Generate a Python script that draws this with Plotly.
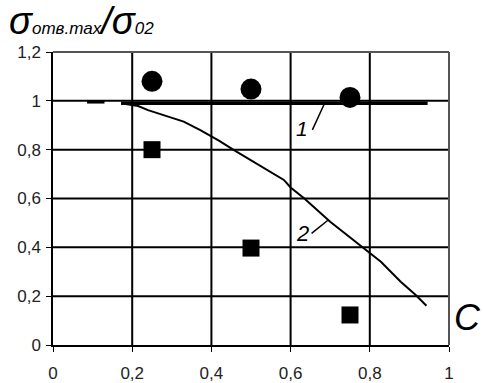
import plotly.graph_objects as go

# Experimental points
circle_x = [0.25, 0.5, 0.75]
circle_y = [1.08, 1.048, 1.014]
square_x = [0.25, 0.5, 0.75]
square_y = [0.80, 0.397, 0.123]

# Curve 1 (horizontal level, drawn in two pieces)
line1_x = [0.086, 0.13, None, 0.172, 0.946]
line1_y = [0.996, 0.996, None, 0.99, 0.99]

# Curve 2
curve2_x = [0.172, 0.215, 0.24, 0.33, 0.372, 0.42, 0.456, 0.52, 0.583, 0.60, 0.634,
            0.70, 0.79, 0.828, 0.878, 0.916, 0.943]
curve2_y = [0.99, 0.979, 0.962, 0.915, 0.88, 0.836, 0.799, 0.737, 0.676, 0.645, 0.601,
            0.505, 0.389, 0.341, 0.259, 0.205, 0.161]

# Leader lines for the curve numbers
lead1_x = [0.655, 0.685]
lead1_y = [0.881, 0.987]
lead2_x = [0.653, 0.695]
lead2_y = [0.457, 0.512]

x_ticks = [0, 0.2, 0.4, 0.6, 0.8, 1]
x_tick_text = ["0", "0,2", "0,4", "0,6", "0,8", "1"]
y_ticks = [0, 0.2, 0.4, 0.6, 0.8, 1, 1.2]
y_tick_text = ["0", "0,2", "0,4", "0,6", "0,8", "1", "1,2"]

fig = go.Figure()

# Grid drawn at the tick positions
for v in x_ticks[1:-1]:
    fig.add_shape(type="line", xref="x", yref="paper", x0=v, x1=v, y0=0, y1=1,
                  line=dict(color="black", width=2), layer="above")
for v in y_ticks[1:-1]:
    fig.add_shape(type="line", xref="paper", yref="y", x0=0, x1=1, y0=v, y1=v,
                  line=dict(color="black", width=2), layer="above")

fig.add_trace(go.Scatter(x=line1_x, y=line1_y, mode="lines",
                         line=dict(color="black", width=3.5), showlegend=False))
fig.add_trace(go.Scatter(x=curve2_x, y=curve2_y, mode="lines",
                         line=dict(color="black", width=2), showlegend=False))
fig.add_trace(go.Scatter(x=lead1_x, y=lead1_y, mode="lines",
                         line=dict(color="black", width=1.5), showlegend=False))
fig.add_trace(go.Scatter(x=lead2_x, y=lead2_y, mode="lines",
                         line=dict(color="black", width=1.5), showlegend=False))
fig.add_trace(go.Scatter(x=circle_x, y=circle_y, mode="markers",
                         marker=dict(symbol="circle", size=21, color="black"),
                         showlegend=False))
fig.add_trace(go.Scatter(x=square_x, y=square_y, mode="markers",
                         marker=dict(symbol="square", size=17, color="black"),
                         showlegend=False))

tick_font = dict(family="Liberation Sans Narrow, Liberation Sans, Arial, sans-serif",
                 size=17, color="#222")

fig.update_xaxes(range=[0, 1], tickmode="array", tickvals=x_ticks, ticktext=x_tick_text,
                 showgrid=False,
                 showline=True, linecolor="black", linewidth=1.5,
                 ticks="outside", ticklen=5, tickcolor="black", tickwidth=1.4,
                 ticklabelstandoff=7, tickfont=tick_font, zeroline=False,
                 automargin=False)
fig.update_yaxes(range=[0, 1.2], tickmode="array", tickvals=y_ticks, ticktext=y_tick_text,
                 showgrid=False,
                 showline=True, linecolor="black", linewidth=1.5,
                 ticks="outside", ticklen=5, tickcolor="black", tickwidth=1.4,
                 ticklabelstandoff=2, tickfont=tick_font, zeroline=False,
                 automargin=False)

# Top and right frame lines
fig.add_shape(type="line", xref="paper", yref="paper", x0=0, x1=1, y0=1, y1=1,
              line=dict(color="#555", width=2))
fig.add_shape(type="line", xref="paper", yref="paper", x0=1, x1=1, y0=0, y1=1,
              line=dict(color="#555", width=2))

ann_font = dict(family="Liberation Sans, Arial, sans-serif", color="black")
fig.add_annotation(
    xref="paper", yref="paper", x=-0.115, y=1.027, xanchor="left", yanchor="bottom",
    text='<i>σ<span style="font-size:17px">отв.max</span>/σ<span style="font-size:17px">02</span></i>',
    showarrow=False, font=dict(size=38, **ann_font))
fig.add_annotation(xref="paper", yref="paper", x=1.085, y=0.017, xanchor="right",
                   text="<i>C</i>", showarrow=False, font=dict(size=36, **ann_font))
fig.add_annotation(x=0.630, y=0.885, text="<i>1</i>", showarrow=False,
                   font=dict(size=21, **ann_font))
fig.add_annotation(x=0.631, y=0.455, text="<i>2</i>", showarrow=False,
                   font=dict(size=22, **ann_font))

fig.update_layout(template="none", width=483, height=383,
                  margin=dict(l=53, r=34, t=52, b=38),
                  plot_bgcolor="rgba(0,0,0,0)", paper_bgcolor="white")

fig.write_html("out.html")
